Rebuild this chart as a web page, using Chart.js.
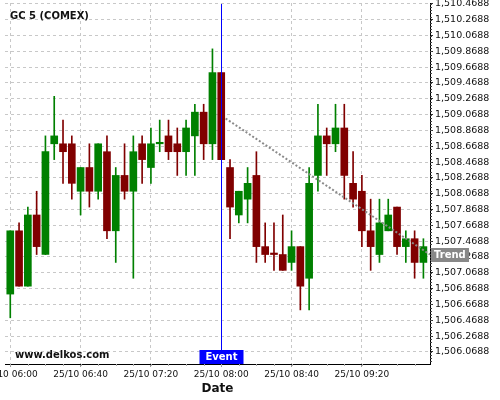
<!DOCTYPE html>
<html>
<head>
<meta charset="utf-8">
<title>GC 5 (COMEX)</title>
<script src="https://cdn.jsdelivr.net/npm/chart.js@4"></script>
<style>
  html, body { margin: 0; padding: 0; background: #fff; }
  canvas { display: block; }
</style>
</head>
<body>
<canvas id="chart" width="500" height="400"></canvas>
<script>
// 5 minute candles, 25/10 06:00 -> 09:55
const opens  = [1506.8, 1507.6, 1506.9, 1507.8, 1507.3, 1508.7, 1508.7, 1508.7, 1508.1, 1508.4, 1508.1, 1508.6,
                1507.6, 1508.3, 1508.1, 1508.7, 1508.4, 1508.7, 1508.8, 1508.7, 1508.6, 1508.8, 1509.1, 1508.7,
                1509.6, 1508.4, 1507.8, 1508.0, 1508.3, 1507.4, 1507.3, 1507.3, 1507.2, 1507.4, 1507.0, 1508.3,
                1508.8, 1508.7, 1508.9, 1508.2, 1508.1, 1507.6, 1507.3, 1507.6, 1507.9, 1507.4, 1507.5, 1507.2];
const highs  = [1507.6, 1507.7, 1507.9, 1508.1, 1508.8, 1509.3, 1509.0, 1508.8, 1508.4, 1508.7, 1508.7, 1508.8,
                1508.4, 1508.7, 1508.8, 1508.8, 1508.9, 1509.0, 1509.0, 1508.9, 1509.0, 1509.2, 1509.2, 1509.9,
                1509.6, 1508.5, 1508.1, 1508.4, 1508.6, 1507.7, 1507.7, 1507.8, 1507.6, 1507.4, 1508.4, 1509.2,
                1508.9, 1509.2, 1509.2, 1508.6, 1508.3, 1508.0, 1508.0, 1508.0, 1507.9, 1507.6, 1507.6, 1507.5];
const lows   = [1506.5, 1506.9, 1506.9, 1507.3, 1507.3, 1508.5, 1508.2, 1508.0, 1507.8, 1507.9, 1508.0, 1507.5,
                1507.2, 1508.0, 1507.0, 1508.2, 1508.2, 1508.6, 1508.5, 1508.3, 1508.3, 1508.3, 1508.5, 1508.5,
                1508.5, 1507.5, 1507.7, 1507.7, 1507.2, 1507.2, 1507.1, 1507.1, 1507.1, 1506.6, 1506.6, 1508.1,
                1508.3, 1508.6, 1508.0, 1507.9, 1507.4, 1507.1, 1507.2, 1507.6, 1507.3, 1507.2, 1507.0, 1507.0];
const closes = [1507.6, 1506.9, 1507.8, 1507.4, 1508.6, 1508.8, 1508.6, 1508.2, 1508.4, 1508.1, 1508.7, 1507.6,
                1508.3, 1508.1, 1508.6, 1508.5, 1508.7, 1508.7, 1508.6, 1508.6, 1508.9, 1509.1, 1508.7, 1509.6,
                1508.5, 1507.9, 1508.1, 1508.2, 1507.4, 1507.3, 1507.3, 1507.1, 1507.4, 1506.9, 1508.2, 1508.8,
                1508.7, 1508.9, 1508.3, 1508.0, 1507.6, 1507.4, 1507.7, 1507.8, 1507.4, 1507.5, 1507.2, 1507.4];
const dojiUp = [17];   // flat candles drawn green

const xTickIndex = [0, 8, 16, 24, 32, 40];
const xTickLabels = ['25/10 06:00', '25/10 06:40', '25/10 07:20', '25/10 08:00', '25/10 08:40', '25/10 09:20'];
const yTicks = [1506.0688, 1506.2688, 1506.4688, 1506.6688, 1506.8688, 1507.0688, 1507.2688, 1507.4688,
                1507.6688, 1507.8688, 1508.0688, 1508.2688, 1508.4688, 1508.6688, 1508.8688, 1509.0688,
                1509.2688, 1509.4688, 1509.6688, 1509.8688, 1510.0688, 1510.2688, 1510.4688];

const eventIndex = 24;
const trendX = [24.5, 47.75];
const trendY = [1509.02, 1507.30];

const UP = '#008000';
const DOWN = '#800000';
const FONT = 'DejaVu Sans';

const candleColors = opens.map((o, i) => {
  const c = closes[i];
  if (c > o) return UP;
  if (c < o) return DOWN;
  return dojiUp.includes(i) ? UP : DOWN;
});

const fmtPrice = v => v.toLocaleString('en-US', { minimumFractionDigits: 4, maximumFractionDigits: 4 });

// labels may hang outside the plot, like the original
const noLabelPadding = s => {
  s.paddingLeft = 0; s.paddingRight = 0; s.paddingTop = 0; s.paddingBottom = 0;
};

// extra drawing: minor ticks, event marker, trend tag, captions
const overlayPlugin = {
  id: 'overlay',
  afterDatasetsDraw(chart) {
    const { ctx, chartArea: area, scales: { x, y } } = chart;
    ctx.save();

    // minor ticks on price axis
    ctx.strokeStyle = '#444';
    ctx.lineWidth = 1;
    ctx.beginPath();
    for (let k = -10; k < 200; k++) {
      const v = yTicks[0] + k * 0.04;
      if (v < y.min || v > y.max) continue;
      const py = Math.round(y.getPixelForValue(v)) + 0.5;
      ctx.moveTo(area.right, py);
      ctx.lineTo(area.right + 2, py);
    }
    ctx.stroke();

    // minor ticks on time axis
    ctx.strokeStyle = '#aaa';
    ctx.beginPath();
    for (let i = 0; i < opens.length; i += 2) {
      const px = Math.round(x.getPixelForValue(i)) + 0.5;
      ctx.moveTo(px, area.bottom);
      ctx.lineTo(px, area.bottom + 2);
    }
    ctx.stroke();

    // event line
    const ex = Math.round(x.getPixelForValue(eventIndex)) + 0.5;
    ctx.strokeStyle = '#0000ff';
    ctx.lineWidth = 1;
    ctx.beginPath();
    ctx.moveTo(ex, area.top + 1);
    ctx.lineTo(ex, area.bottom);
    ctx.stroke();

    ctx.fillStyle = '#0000ff';
    ctx.fillRect(ex - 22, area.bottom - 14, 44, 14);
    ctx.fillStyle = '#fff';
    ctx.font = 'bold 10px "' + FONT + '"';
    ctx.textAlign = 'center';
    ctx.textBaseline = 'middle';
    ctx.fillText('Event', ex, area.bottom - 6.5);

    // trend tag on the price axis
    const ty = y.getPixelForValue(trendY[1]);
    ctx.fillStyle = '#888';
    ctx.fillRect(area.right + 1, Math.round(ty - 7), 38, 14);
    ctx.fillStyle = '#fff';
    ctx.textAlign = 'left';
    ctx.fillText('Trend', area.right + 4, ty + 0.5);

    // captions
    ctx.fillStyle = '#111';
    ctx.textBaseline = 'alphabetic';
    ctx.fillText('GC 5 (COMEX)', 10, 19);
    ctx.fillText('www.delkos.com', 15, 357.5);

    ctx.restore();
  }
};

new Chart(document.getElementById('chart'), {
  type: 'bar',
  data: {
    datasets: [
      {
        type: 'line',
        label: 'Trend',
        data: trendX.map((v, i) => ({ x: v, y: trendY[i] })),
        borderColor: '#8a8a8a',
        borderWidth: 2,
        borderDash: [2, 2],
        pointRadius: 0,
        order: 0
      },
      {
        label: 'Body',
        data: opens.map((o, i) => ({ x: i, y: [o, closes[i]] })),
        backgroundColor: candleColors,
        barThickness: 7,
        minBarLength: 1.5,
        grouped: false,
        order: 1
      },
      {
        label: 'Wick',
        data: lows.map((l, i) => ({ x: i, y: [l, highs[i]] })),
        backgroundColor: candleColors,
        barThickness: 1,
        grouped: false,
        order: 2
      }
    ]
  },
  options: {
    responsive: false,
    animation: false,
    devicePixelRatio: 1,
    layout: { autoPadding: false, padding: { left: 5, top: 3, right: 0, bottom: 0 } },
    plugins: { legend: { display: false }, tooltip: { enabled: false } },
    scales: {
      x: {
        type: 'linear',
        min: -0.6,
        max: 47.75,
        offset: false,
        afterFit: s => { s.height = 36; noLabelPadding(s); },
        afterBuildTicks: s => { s.ticks = xTickIndex.map(v => ({ value: v })); },
        ticks: {
          autoSkip: false,
          maxRotation: 0,
          padding: 2,
          color: '#111',
          font: { family: FONT, size: 9 },
          callback: v => xTickLabels[xTickIndex.indexOf(v)]
        },
        grid: { offset: false, color: '#c8c8c8', tickColor: '#999', tickLength: 3 },
        border: { color: '#000', width: 1, dash: [3, 3] },
        title: { display: true, text: 'Date', color: '#111', font: { family: FONT, size: 12, weight: 'bold' }, padding: { top: 0, bottom: 4 } }
      },
      y: {
        type: 'linear',
        position: 'right',
        min: 1505.916,
        max: 1510.48,
        beginAtZero: false,
        afterFit: s => { s.width = 70; noLabelPadding(s); },
        afterBuildTicks: s => { s.ticks = yTicks.map(v => ({ value: v })); },
        ticks: {
          autoSkip: false,
          padding: 2,
          color: '#111',
          font: { family: FONT, size: 9.5 },
          callback: v => fmtPrice(v)
        },
        grid: { color: '#c8c8c8', tickColor: '#333', tickLength: 3 },
        border: { color: '#000', width: 1, dash: [3, 3] }
      }
    }
  },
  plugins: [overlayPlugin]
});
</script>
</body>
</html>
